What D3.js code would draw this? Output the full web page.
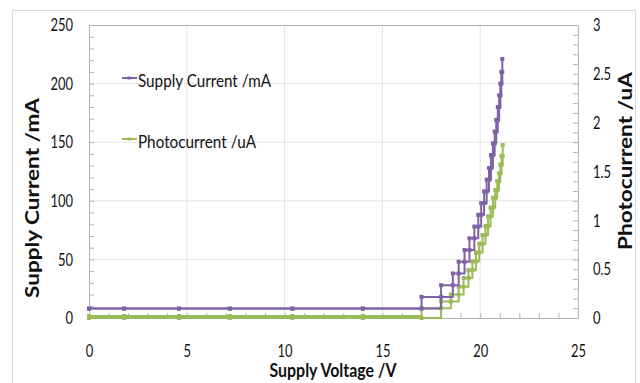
<!DOCTYPE html>
<html><head><meta charset="utf-8">
<script src="https://cdn.jsdelivr.net/npm/d3@7"></script>
<style>
html,body{margin:0;padding:0;background:#fff;}
svg{display:block;}
</style></head>
<body>
<svg id="chart" width="640" height="383"></svg>
<script>
// ---- data ----
const xTicks = [0, 5, 10, 15, 20, 25];
const leftTicks = [0, 50, 100, 150, 200, 250];
const rightTicks = [0, 0.5, 1, 1.5, 2, 2.5, 3];
const seriesNames = ["Supply Current /mA", "Photocurrent /uA"];

const supplyVoltage = [0, 1.8, 4.6, 7.2, 10.4, 14.0, 17.0, 18.0, 18.6, 18.9, 19.2, 19.45, 19.7, 19.9, 20.05, 20.2, 20.33, 20.45, 20.55, 20.65, 20.74, 20.82, 20.9, 20.97, 21.03, 21.08, 21.13];
const supplyUp   = [8, 8, 8, 8, 8, 8, 18, 28, 38, 48, 58, 68, 78, 88, 98, 108, 118, 128, 139, 149, 159, 169, 180, 190, 200, 210, 221];
const supplyDown = [8, 8, 8, 8, 8, 8, 8, 18, 28, 38, 48, 58, 68, 78, 88, 98, 108, 118, 128, 139, 149, 159, 169, 180, 190, 200, 210];

const photoVoltage = [0, 1.8, 4.6, 7.2, 10.4, 14.0, 17.0, 18.0, 18.5, 18.9, 19.15, 19.4, 19.6, 19.78, 19.95, 20.12, 20.27, 20.4, 20.53, 20.65, 20.77, 20.87, 20.96, 21.03, 21.09, 21.15];
const photoUp   = [0.02, 0.02, 0.02, 0.02, 0.02, 0.02, 0.1, 0.17, 0.24, 0.32, 0.41, 0.49, 0.58, 0.67, 0.76, 0.85, 0.94, 1.04, 1.13, 1.23, 1.31, 1.40, 1.48, 1.57, 1.66, 1.77];
const photoDown = [0, 0, 0, 0, 0, 0, 0, 0.1, 0.17, 0.24, 0.32, 0.41, 0.49, 0.58, 0.67, 0.76, 0.85, 0.94, 1.04, 1.13, 1.23, 1.31, 1.40, 1.48, 1.57, 1.66];

const caption = "图 3-8  雪崩光电二极管供电电压与电源电流及光电流的关系曲线";

// ---- setup ----
const svg = d3.select("#chart");
const L = 89, R = 578, T = 25, B = 318;
const x = d3.scaleLinear().domain([0, 25]).range([L, R]);
const yL = d3.scaleLinear().domain([0, 250]).range([B, T]);
const yR = d3.scaleLinear().domain([0, 3]).range([B, T]);
const purple = "#7f62a6", green = "#9bbb59";
const axisCol = "#b3b3b3", gridCol = "#e3e3e3";
const fontN = "Lato, 'Open Sans', sans-serif";

function squeeze(sel, f) {
  sel.each(function () {
    const w = this.getComputedTextLength();
    d3.select(this).attr("textLength", w * f).attr("lengthAdjust", "spacingAndGlyphs");
  });
}

// caption (cut off at top, as in the reference)
svg.append("text").attr("x", 12).attr("y", -3)
  .attr("font-family", "'Noto Sans CJK SC', sans-serif").attr("font-size", 17)
  .attr("fill", "#222").attr("textLength", 430).attr("lengthAdjust", "spacingAndGlyphs")
  .text(caption);

// outer frame
svg.append("rect").attr("x", 12.5).attr("y", 10.5).attr("width", 623).attr("height", 390)
  .attr("fill", "none").attr("stroke", "#d9d9d9");

// gridlines
svg.append("g").selectAll("line").data(xTicks.slice(1, -1)).join("line")
  .attr("x1", d => x(d)).attr("x2", d => x(d)).attr("y1", T).attr("y2", B)
  .attr("stroke", gridCol);
svg.append("g").selectAll("line").data(leftTicks.slice(1, -1)).join("line")
  .attr("x1", L).attr("x2", R).attr("y1", d => yL(d)).attr("y2", d => yL(d))
  .attr("stroke", gridCol);

// minor ticks (inward)
const gMinL = svg.append("g").attr("transform", `translate(${L},0)`)
  .call(d3.axisLeft(yL).tickValues(d3.range(0, 251, 10)).tickSize(-5).tickSizeOuter(0).tickFormat(""));
const gMinR = svg.append("g").attr("transform", `translate(${R},0)`)
  .call(d3.axisRight(yR).tickValues(d3.range(0, 31, 1).map(v => v / 10)).tickSize(-5).tickSizeOuter(0).tickFormat(""));
const gMinB = svg.append("g").attr("transform", `translate(0,${B})`)
  .call(d3.axisBottom(x).tickValues(d3.range(0, 26, 1)).tickSize(-5).tickSizeOuter(0).tickFormat(""));
[gMinL, gMinR, gMinB].forEach(g => {
  g.selectAll("line").attr("stroke", axisCol);
  g.select(".domain").attr("stroke", axisCol);
});
// plot top border
svg.append("line").attr("x1", L).attr("x2", R).attr("y1", T + 0.5).attr("y2", T + 0.5).attr("stroke", axisCol);

// tick labels
const gL = svg.append("g").attr("transform", `translate(${L},0)`)
  .call(d3.axisLeft(yL).tickValues(leftTicks).tickSize(0).tickPadding(16));
const gR = svg.append("g").attr("transform", `translate(${R},0)`)
  .call(d3.axisRight(yR).tickValues(rightTicks).tickSize(0).tickPadding(15).tickFormat(d => String(d)));
const gB = svg.append("g").attr("transform", `translate(0,${B})`)
  .call(d3.axisBottom(x).tickValues(xTicks).tickSize(0).tickPadding(26));
[gL, gR, gB].forEach(g => {
  g.select(".domain").remove();
  g.selectAll("text").attr("font-family", fontN).attr("font-size", 18).attr("fill", "#111");
  squeeze(g.selectAll("text"), 0.72);
});

// series
const line = d3.line().curve(d3.curveStepAfter);
function drawSeries(vs, ys, yScale, color) {
  const pts = vs.map((v, i) => [x(v), yScale(ys[i])]);
  svg.append("path").attr("d", line(pts)).attr("fill", "none")
    .attr("stroke", color).attr("stroke-width", 2).attr("stroke-linejoin", "miter");
  svg.append("g").selectAll("rect").data(pts).join("rect")
    .attr("x", d => d[0] - 2).attr("y", d => d[1] - 2).attr("width", 4).attr("height", 4)
    .attr("fill", color);
}
drawSeries(photoVoltage, photoDown, yR, green);
drawSeries(photoVoltage, photoUp, yR, green);
drawSeries(supplyVoltage, supplyDown, yL, purple);
drawSeries(supplyVoltage, supplyUp, yL, purple);

// legend
const legend = [{name: seriesNames[0], color: purple, y: 78, w: 133}, {name: seriesNames[1], color: green, y: 139, w: 118}];
legend.forEach(d => {
  svg.append("line").attr("x1", 122).attr("x2", 137).attr("y1", d.y).attr("y2", d.y)
    .attr("stroke", d.color).attr("stroke-width", 2);
  svg.append("rect").attr("x", 127.5).attr("y", d.y - 1.5).attr("width", 3).attr("height", 3).attr("fill", d.color);
  svg.append("text").attr("x", 138).attr("y", d.y + 8.5)
    .attr("font-family", fontN).attr("font-size", 18).attr("fill", "#111")
    .attr("textLength", d.w).attr("lengthAdjust", "spacingAndGlyphs").text(d.name);
});

// axis titles
svg.append("text").attr("transform", `translate(39,198) rotate(-90)`).attr("text-anchor", "middle")
  .attr("font-family", fontN).attr("font-weight", "bold").attr("font-size", 18).attr("fill", "#111")
  .attr("textLength", 200).attr("lengthAdjust", "spacingAndGlyphs").text("Supply Current /mA");
svg.append("text").attr("transform", `translate(632,161) rotate(-90)`).attr("text-anchor", "middle")
  .attr("font-family", fontN).attr("font-weight", "bold").attr("font-size", 18).attr("fill", "#111")
  .attr("textLength", 178).attr("lengthAdjust", "spacingAndGlyphs").text("Photocurrent /uA");
svg.append("text").attr("x", 333).attr("y", 377).attr("text-anchor", "middle")
  .attr("font-family", fontN).attr("font-weight", "bold").attr("font-size", 18).attr("fill", "#111")
  .attr("textLength", 127).attr("lengthAdjust", "spacingAndGlyphs").text("Supply Voltage /V");
</script>
</body></html>
